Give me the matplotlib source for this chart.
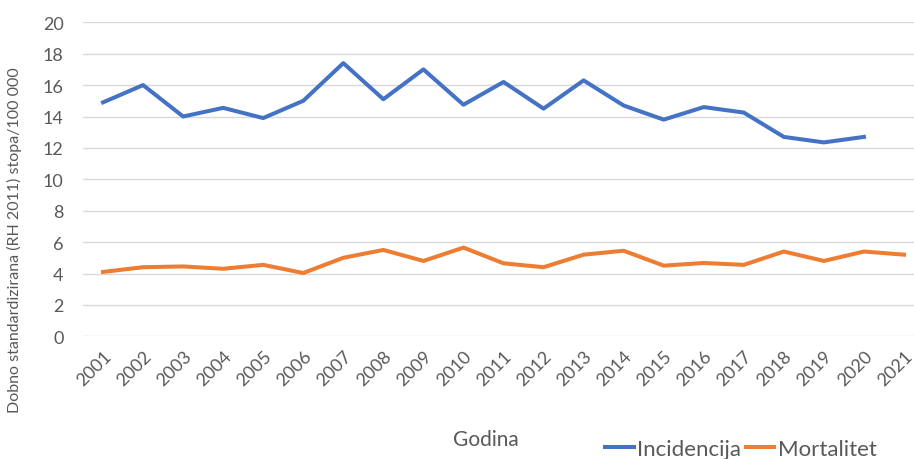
import matplotlib.pyplot as plt

plt.rcParams['font.family'] = ['Lato', 'DejaVu Sans']

# ----- data -----
years = [str(y) for y in range(2001, 2022)]
incidencija = [14.9, 16.0, 14.0, 14.55, 13.9, 15.0, 17.4, 15.1, 17.0, 14.75,
               16.2, 14.5, 16.3, 14.7, 13.8, 14.6, 14.25, 12.7, 12.35, 12.7]
mortalitet = [4.1, 4.4, 4.45, 4.3, 4.55, 4.03, 5.0, 5.5, 4.8, 5.65,
              4.65, 4.4, 5.2, 5.45, 4.5, 4.67, 4.55, 5.4, 4.8, 5.4, 5.2]
y_ticks = list(range(0, 21, 2))

blue = '#4472C4'
orange = '#ED7D31'
grey = '#595959'

fig = plt.figure(figsize=(9.14, 4.60), dpi=100)
ax = fig.add_axes([83 / 914, 1 - 337.3 / 460, (914 - 83) / 914, 314 / 460])

x_inc = range(len(incidencija))
x_mor = range(len(mortalitet))
ax.plot(x_inc, incidencija, color=blue, lw=2.9, label='Incidencija')
ax.plot(x_mor, mortalitet, color=orange, lw=2.9, label='Mortalitet')

ax.set_xlim(-0.5, 20.25)
ax.set_ylim(0, 20)
ax.set_yticks(y_ticks)
ax.set_xticks(range(len(years)))
ax.set_xticklabels(years, rotation=45, ha='right', rotation_mode='anchor')
ax.tick_params(axis='both', length=0, colors=grey, labelsize=13)
ax.tick_params(axis='y', pad=14)
ax.tick_params(axis='x', pad=8)
ax.grid(axis='y', color='#D9D9D9', lw=1)
ax.set_axisbelow(True)
for s in ax.spines.values():
    s.set_visible(False)

fig.text(14 / 914, 1 - 240 / 460, 'Dobno standardizirana (RH 2011) stopa/100 000',
         rotation=90, ha='center', va='center', color=grey, fontsize=11.5)
fig.text(486 / 914, 1 - 440 / 460, 'Godina', ha='center', va='center',
         color=grey, fontsize=15)

fig.legend(loc='center left', bbox_to_anchor=(596 / 914, 1 - 450 / 460), ncol=2,
           frameon=False, fontsize=16, handlelength=1.3, handletextpad=0.15,
           columnspacing=0.2, labelcolor=grey, borderaxespad=0)

fig.savefig('out.png', dpi=100)
